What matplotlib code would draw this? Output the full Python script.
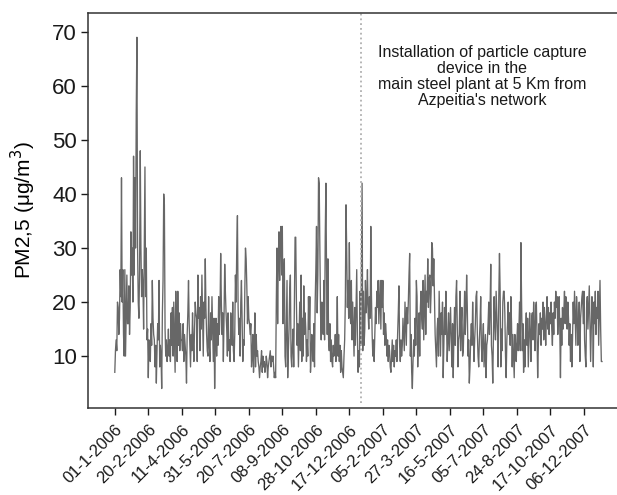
import matplotlib
matplotlib.use("Agg")
import matplotlib.pyplot as plt

plt.rcParams["font.family"] = ["Liberation Sans", "DejaVu Sans"]

# daily PM2.5 values, 01-1-2006 -> end of 2007
pm25 = [
    7, 11, 13, 11, 20, 19, 14, 17, 26, 21,
    43, 20, 26, 14, 10, 26, 10, 18, 25, 16,
    16, 23, 14, 19, 33, 25, 30, 20, 47, 25,
    43, 30, 55, 69, 30, 20, 17, 26, 48, 30,
    21, 26, 23, 15, 29, 45, 21, 30, 13, 15,
    6, 13, 10, 9, 16, 12, 24, 17, 14, 13,
    8, 12, 5, 11, 16, 13, 24, 8, 12, 10,
    4, 18, 24, 40, 38, 15, 10, 13, 9, 11,
    15, 10, 13, 9, 18, 12, 19, 10, 20, 13,
    7, 22, 14, 9, 22, 12, 18, 11, 16, 13,
    13, 11, 16, 9, 14, 12, 10, 5, 14, 18,
    24, 16, 12, 8, 14, 11, 18, 13, 9, 15,
    20, 18, 17, 9, 25, 17, 19, 11, 21, 15,
    25, 18, 10, 20, 17, 28, 19, 14, 11, 10,
    21, 12, 9, 18, 13, 21, 15, 9, 17, 4,
    12, 17, 10, 16, 12, 21, 14, 18, 29, 20,
    14, 18, 9, 17, 27, 22, 18, 15, 10, 18,
    11, 13, 9, 18, 14, 12, 20, 11, 9, 14,
    25, 20, 30, 36, 19, 14, 17, 10, 20, 24,
    16, 9, 13, 12, 22, 30, 28, 23, 16, 21,
    17, 16, 14, 16, 8, 10, 14, 7, 11, 18,
    8, 14, 10, 11, 9, 8, 6, 8, 9, 11,
    7, 10, 8, 9, 7, 8, 10, 9, 6, 8,
    9, 10, 11, 8, 10, 9, 10, 8, 6, 7,
    6, 20, 30, 16, 28, 33, 24, 31, 34, 25,
    34, 16, 24, 28, 10, 8, 16, 24, 6, 11,
    15, 22, 25, 10, 8, 12, 15, 8, 20, 32,
    32, 20, 12, 16, 8, 14, 20, 11, 25, 9,
    17, 10, 23, 14, 18, 15, 9, 13, 10, 21,
    15, 21, 7, 10, 14, 12, 9, 16, 8, 20,
    26, 34, 18, 25, 43, 42, 30, 18, 13, 20,
    16, 14, 24, 13, 32, 42, 25, 14, 28, 13,
    11, 16, 9, 13, 9, 8, 12, 10, 11, 14,
    9, 13, 21, 10, 14, 9, 12, 7, 11, 8,
    7, 6, 10, 13, 20, 38, 30, 19, 24, 17,
    31, 18, 16, 24, 13, 20, 15, 10, 19, 12,
    19, 26, 14, 7, 11, 8, 22, 12, 26, 42,
    11, 22, 12, 15, 24, 18, 20, 26, 18, 15,
    21, 17, 34, 21, 14, 10, 13, 9, 14, 19,
    16, 22, 19, 24, 16, 20, 24, 15, 24, 19,
    24, 14, 18, 12, 16, 14, 10, 13, 9, 12,
    11, 8, 7, 10, 13, 9, 12, 8, 11, 10,
    13, 9, 14, 18, 23, 12, 9, 13, 10, 12,
    17, 14, 11, 20, 16, 12, 19, 16, 20, 25,
    29, 10, 14, 7, 4, 9, 13, 10, 17, 12,
    24, 21, 8, 14, 18, 10, 19, 22, 17, 15,
    24, 13, 19, 25, 14, 22, 20, 28, 19, 24,
    25, 18, 22, 31, 30, 23, 28, 21, 14, 11,
    8, 15, 17, 10, 22, 16, 10, 18, 14, 20,
    6, 12, 19, 14, 22, 16, 9, 13, 18, 11,
    15, 19, 13, 8, 16, 6, 14, 19, 12, 21,
    24, 16, 8, 13, 14, 22, 11, 16, 19, 10,
    11, 16, 22, 14, 18, 25, 19, 10, 13, 5,
    8, 13, 16, 12, 20, 14, 9, 13, 16, 21,
    22, 14, 10, 8, 13, 16, 21, 12, 9, 13,
    16, 8, 11, 14, 6, 12, 13, 16, 20, 14,
    19, 27, 12, 10, 5, 14, 21, 16, 13, 22,
    18, 14, 8, 21, 29, 22, 8, 15, 11, 20,
    22, 22, 18, 10, 6, 13, 16, 20, 14, 18,
    12, 21, 16, 8, 14, 10, 6, 14, 12, 9,
    13, 16, 11, 15, 20, 11, 31, 20, 11, 16,
    7, 13, 8, 15, 18, 12, 17, 8, 13, 18,
    14, 9, 17, 18, 13, 20, 15, 11, 19, 20,
    14, 6, 12, 16, 14, 18, 12, 17, 15, 20,
    13, 19, 16, 12, 17, 21, 15, 19, 14, 18,
    16, 20, 15, 12, 18, 14, 20, 17, 22, 19,
    21, 14, 18, 21, 15, 6, 17, 12, 19, 15,
    18, 22, 16, 21, 19, 15, 20, 17, 12, 16,
    9, 14, 8, 13, 20, 16, 22, 17, 12, 21,
    18, 12, 15, 20, 9, 17, 19, 21, 22, 16,
    22, 13, 10, 8, 19, 21, 15, 19, 23, 16,
    9, 15, 21, 18, 8, 20, 16, 22, 14, 19,
    17, 22, 12, 18, 24, 15, 9, 9,
]
days = list(range(len(pm25)))

date_labels = [
    "01-1-2006", "20-2-2006", "11-4-2006", "31-5-2006", "20-7-2006",
    "08-9-2006", "28-10-2006", "17-12-2006", "05-2-2007", "27-3-2007",
    "16-5-2007", "05-7-2007", "24-8-2007", "17-10-2007", "06-12-2007",
]
date_ticks = list(range(0, 50 * len(date_labels), 50))

install_day = 367
note = ("Installation of particle capture\ndevice in the\n"
        "main steel plant at 5 Km from\nAzpeitia's network")

fig = plt.figure(figsize=(6.17, 4.95), dpi=100)
ax = fig.add_axes([0.1426, 0.1758, 0.857, 0.798])

ax.plot(days, pm25, color="#676767", lw=0.95)
ax.axvline(install_day, ymin=0.012, color="#b0b0b0", ls=":", lw=1.3)
ax.text(548, 67.6, note, ha="center", va="top", fontsize=11.5,
        linespacing=1.08, color="#1a1a1a")

ax.set_xlim(-40, 749)
ax.set_ylim(0.4, 73.5)
ax.set_yticks([10, 20, 30, 40, 50, 60, 70])
ax.set_xticks(date_ticks)
ax.set_xticklabels(date_labels, rotation=45, ha="right",
                   rotation_mode="anchor")
ax.set_ylabel("PM2,5 (μg/m$^3$)", fontsize=15, labelpad=10)

ax.tick_params(direction="out", length=5, width=1, colors="#1a1a1a")
ax.tick_params(axis="y", labelsize=16, pad=3)
ax.tick_params(axis="x", labelsize=12, pad=5)
ax.spines["right"].set_visible(False)
for side in ["top", "bottom", "left"]:
    ax.spines[side].set_color("#333333")
    ax.spines[side].set_linewidth(1.1)

fig.savefig("out.png", dpi=100)
